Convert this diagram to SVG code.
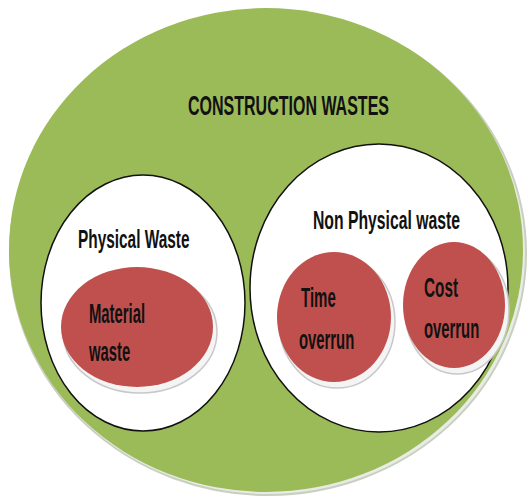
<svg xmlns="http://www.w3.org/2000/svg" width="529" height="499" viewBox="0 0 529 499">
<defs>
<style>
.t{font-family:"Liberation Sans",Arial,sans-serif;font-weight:bold;fill:#111;}
.white{fill:#fff;stroke:#111;stroke-width:1.5;}
.red{fill:#C0504D;}
.rim{fill:#f4f4f4;stroke:#c8c8c8;stroke-width:1.5;}
</style>
</defs>
<rect width="529" height="499" fill="#fff"/>
<g id="construction-wastes">
<ellipse cx="268" cy="253" rx="258" ry="242" fill="#e8ece4" stroke="#c9cfc2" stroke-width="2"/>
<ellipse cx="266" cy="250" rx="257" ry="242" fill="#9BBB59"/>
<text class="t" font-size="28" transform="translate(188 115) scale(0.572 1)">CONSTRUCTION WASTES</text>
</g>
<g id="physical-waste">
<ellipse class="white" cx="143" cy="303" rx="102" ry="128"/>
<text class="t" font-size="26" transform="translate(78 248) scale(0.592 1)">Physical Waste</text>
</g>
<g id="non-physical-waste">
<ellipse class="white" cx="379" cy="288" rx="129" ry="144"/>
<text class="t" font-size="25" transform="translate(313 229) scale(0.63 1)">Non Physical waste</text>
</g>
<g id="material-waste">
<ellipse class="rim" cx="140" cy="332" rx="77" ry="61"/>
<ellipse class="red" cx="137" cy="327" rx="76" ry="60"/>
<text class="t" font-size="27" transform="translate(89 323) scale(0.55 1)">Material</text>
<text class="t" font-size="27" transform="translate(89 361) scale(0.55 1)">waste</text>
</g>
<g id="time-overrun">
<ellipse class="rim" cx="337" cy="322" rx="58" ry="66"/>
<ellipse class="red" cx="334" cy="317" rx="57" ry="65"/>
<text class="t" font-size="27" transform="translate(301 307) scale(0.556 1)">Time</text>
<text class="t" font-size="27" transform="translate(299 349) scale(0.55 1)">overrun</text>
</g>
<g id="cost-overrun">
<ellipse class="rim" cx="457" cy="310" rx="52" ry="64"/>
<ellipse class="red" cx="454" cy="305" rx="51" ry="63"/>
<text class="t" font-size="27" transform="translate(424 297) scale(0.567 1)">Cost</text>
<text class="t" font-size="27" transform="translate(424 338) scale(0.55 1)">overrun</text>
</g>
<g id="connectors"/>
</svg>
